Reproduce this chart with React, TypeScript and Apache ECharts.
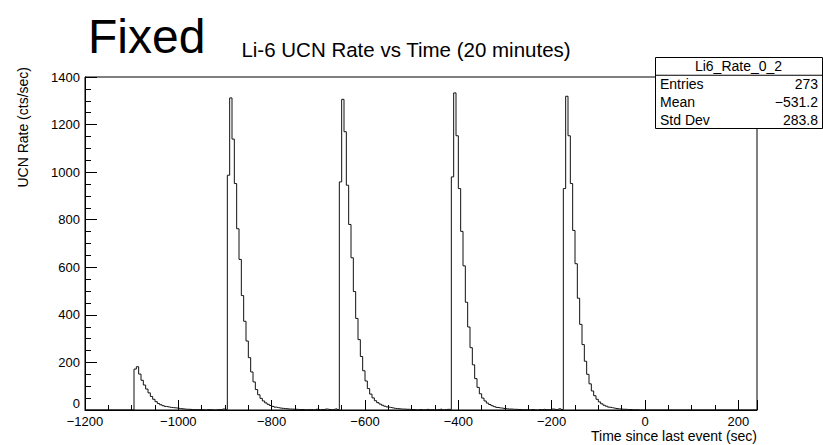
import React, { useEffect, useRef } from 'react';
import * as echarts from 'echarts';

// ---- axis ranges / ticks ----
const binWidth = 5;
const xMin = -1200;
const xMax = 240;
const xInterval = 200;
const yMin = 0;
const yMax = 1400;
const yInterval = 200;

// ---- histogram content (cts/sec per 5 s bin), one array per fill pulse ----
const pulseStarts = [-1095, -895, -655, -415, -175];
const pulse1 = [172, 182, 151, 125, 105, 88, 72, 57, 45, 35, 27, 22, 18, 15, 13, 11, 10, 9, 8, 6, 5, 4, 3, 3, 2, 2, 1, 2, 1, 1, 0, 2, 1, 1, 0, 1, 2, 1, 4, 2];
const pulse2 = [987, 1312, 1139, 952, 762, 633, 481, 373, 290, 220, 160, 118, 86, 64, 49, 38, 30, 24, 19, 15, 12, 10, 8, 7, 6, 5, 4, 4, 3, 3, 2, 2, 2, 1, 1, 2, 1, 0, 3, 1, 2, 1, 4, 2, 1, 3, 5, 2];
const pulse3 = [959, 1306, 1170, 945, 780, 640, 498, 385, 296, 225, 165, 122, 90, 67, 51, 39, 31, 25, 20, 16, 13, 11, 9, 7, 6, 5, 4, 4, 3, 3, 2, 2, 1, 1, 2, 1, 1, 3, 1, 2, 0, 1, 2, 4, 1, 2, 3, 2];
const pulse4 = [980, 1333, 1153, 931, 751, 606, 453, 349, 262, 190, 132, 95, 68, 50, 38, 29, 23, 18, 14, 11, 9, 8, 6, 5, 4, 4, 3, 3, 2, 2, 1, 1, 1, 1, 2, 1, 0, 2, 1, 3, 1, 2, 1, 4, 2, 1, 5, 2];
const pulse5 = [931, 1319, 1153, 952, 755, 615, 470, 360, 275, 205, 150, 110, 80, 60, 45, 34, 26, 20, 16, 12, 10, 8, 6, 5, 4, 3, 3, 2, 2, 1, 1, 1];
const pulses = [pulse1, pulse2, pulse3, pulse4, pulse5];

// ---- texts ----
const bigLabel = 'Fixed';
const chartTitle = 'Li-6 UCN Rate vs Time (20 minutes)';
const xTitle = 'Time since last event (sec)';
const yTitle = 'UCN Rate (cts/sec)';
const statsName = 'Li6_Rate_0_2';
const statsLabels = ['Entries', 'Mean', 'Std Dev'];
const statsValues = ['273', '\u2212531.2', '283.8'];

const FONT = '"Liberation Sans", Arial, Helvetica, sans-serif';

function buildSteps(): number[][] {
  const nBins = Math.round((xMax - xMin) / binWidth);
  const counts: number[] = new Array(nBins).fill(0);
  pulses.forEach((p, k) => {
    const start = Math.round((pulseStarts[k] - xMin) / binWidth);
    p.forEach((v, j) => {
      if (start + j < nBins) counts[start + j] = v;
    });
  });
  const pts = counts.map((v, i) => [xMin + i * binWidth, v]);
  pts.push([xMax, counts[nBins - 1]]);
  return pts;
}

const fmt = (v: number) => (v < 0 ? '\u2212' + Math.abs(v) : String(v));
const fmtY = (v: number) => (v === 0 ? '{lo|0}' : fmt(v));

export default function App() {
  const ref = useRef<HTMLDivElement>(null);
  useEffect(() => {
    if (!ref.current) return;
    const chart = echarts.init(ref.current, undefined, { renderer: 'svg' });
    const L = 85, T = 77, R = 757, B = 410;
    const bx = 655, by = 57, bw = 167, rowH = 17.75;
    const graphics: any[] = [
      { type: 'text', left: 88, top: 12, style: { text: bigLabel, font: `48px ${FONT}`, fill: '#000' } },
      { type: 'text', x: 406, y: 49, style: { text: chartTitle, font: `20.5px ${FONT}`, fill: '#000', align: 'center', verticalAlign: 'middle' } },
      { type: 'text', x: R, y: 436, style: { text: xTitle, font: `14px ${FONT}`, fill: '#000', align: 'right', verticalAlign: 'middle' } },
      { type: 'text', x: 23, y: T - 10, rotation: Math.PI / 2, style: { text: yTitle, font: `14px ${FONT}`, fill: '#000', align: 'right', verticalAlign: 'middle' } },
      { type: 'rect', shape: { x: bx + 0.5, y: by + 0.5, width: bw, height: rowH * 4 }, style: { fill: '#fff', stroke: '#000', lineWidth: 1 }, z: 10 },
      { type: 'line', shape: { x1: bx, y1: by + rowH + 0.5, x2: bx + bw, y2: by + rowH + 0.5 }, style: { stroke: '#000', lineWidth: 1 }, z: 11 },
      { type: 'text', x: bx + bw / 2, y: by + rowH / 2 + 0.5, z: 11, style: { text: statsName, font: `14px ${FONT}`, fill: '#000', align: 'center', verticalAlign: 'middle' } },
    ];
    statsLabels.forEach((lab, i) => {
      const cy = by + rowH * (i + 1.5) + 0.5;
      graphics.push({ type: 'text', x: bx + 5, y: cy, z: 11, style: { text: lab, font: `14px ${FONT}`, fill: '#000', align: 'left', verticalAlign: 'middle' } });
      graphics.push({ type: 'text', x: bx + bw - 4, y: cy, z: 11, style: { text: statsValues[i], font: `14px ${FONT}`, fill: '#000', align: 'right', verticalAlign: 'middle' } });
    });

    chart.setOption({
      animation: false,
      backgroundColor: '#fff',
      grid: { left: L, top: T, right: 823 - R, bottom: 445 - B, show: true, borderColor: '#000', borderWidth: 1, backgroundColor: 'transparent' },
      xAxis: {
        type: 'value', min: xMin, max: xMax, interval: xInterval,
        axisLine: { show: true, onZero: false, lineStyle: { color: '#000', width: 1 } },
        axisTick: { show: true, inside: true, length: 10, lineStyle: { color: '#000' } },
        minorTick: { show: true, splitNumber: 4, length: 5, lineStyle: { color: '#000' } },
        splitLine: { show: false },
        axisLabel: { color: '#000', fontFamily: FONT, fontSize: 13, margin: 5, formatter: fmt, showMaxLabel: false },
      },
      yAxis: {
        type: 'value', min: yMin, max: yMax, interval: yInterval,
        axisLine: { show: true, onZero: false, lineStyle: { color: '#000', width: 1 } },
        axisTick: { show: true, inside: true, length: 12, lineStyle: { color: '#000' } },
        minorTick: { show: true, splitNumber: 4, length: 6, lineStyle: { color: '#000' } },
        splitLine: { show: false },
        axisLabel: {
          color: '#000', fontFamily: FONT, fontSize: 13, margin: 5, formatter: fmtY,
          rich: { lo: { color: '#000', fontFamily: FONT, fontSize: 13, padding: [0, 0, 14, 0] } },
        },
      },
      series: [{
        type: 'line', step: 'end', data: buildSteps(), symbol: 'none', clip: true,
        lineStyle: { color: '#111', width: 1 }, silent: true,
      }],
      graphic: graphics,
    });
    return () => chart.dispose();
  }, []);
  return <div ref={ref} style={{ position: 'absolute', left: 0, top: 0, width: 823, height: 445 }} />;
}
